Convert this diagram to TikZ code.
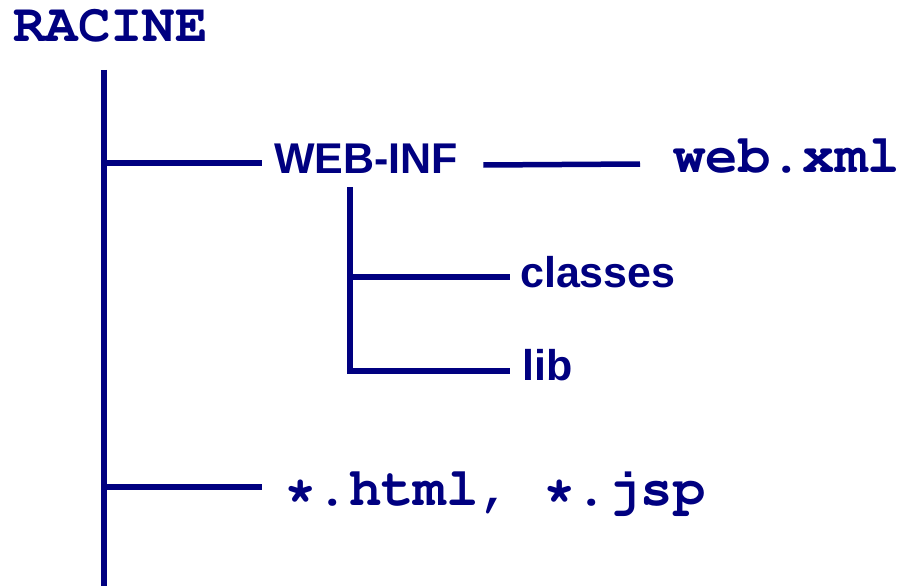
\documentclass[tikz,border=0pt]{standalone}
\usepackage{fontspec}
\setsansfont{Liberation Sans}
\usetikzlibrary{calc}
\definecolor{navyblue}{RGB}{0,0,128}
\newcommand{\courierbold}{\fontencoding{T1}\fontfamily{pcr}\fontseries{b}\selectfont}

\begin{document}
\begin{tikzpicture}[x=1pt,y=-1pt,
  dirline/.style={draw=navyblue, line width=5.5pt},
  mononame/.style={anchor=base west, inner sep=0pt, text=navyblue, font=\courierbold\fontsize{54}{60}\selectfont},
  sansname/.style={anchor=base west, inner sep=0pt, text=navyblue, font=\fontsize{43}{48}\selectfont\sffamily\bfseries}]
\useasboundingbox (0,0) rectangle (900,586);
% root directory and its trunk
\node[mononame] (racine) at (13,42) {RACINE};
\coordinate (trunktop) at (104,70);
\coordinate (trunkbot) at (104,586);
\draw[dirline] (trunktop) -- (trunkbot);
% WEB-INF and its content
\coordinate (webfork) at (104,163);
\node[sansname] (webinf) at (274,173) {WEB-INF};
\node[mononame] (webxml) at (673,172) {web.xml};
\draw[dirline] (webfork) -- ($(webinf.west |- webfork)+(-12,0)$);
\draw[dirline] ($(webinf.base east)+(25,-8)$) -- ($(webxml.base west)+(-33,-8)$);
\coordinate (subtop) at (350,187);
\coordinate (clsfork) at (350,277);
\coordinate (libfork) at (350,371);
\node[sansname] (classes) at (520,287) {classes};
\node[sansname] (lib) at (522,380) {lib};
\draw[dirline] (subtop) -- (libfork) -- ($(lib.west |- libfork)+(-12,0)$);
\draw[dirline] (clsfork) -- ($(classes.west |- clsfork)+(-10,0)$);
% pages at the root
\coordinate (htmlfork) at (104,487);
\node[mononame] (pages) at (284,505) {*.html, *.jsp};
\draw[dirline] (htmlfork) -- ($(pages.west |- htmlfork)+(-22,0)$);
\end{tikzpicture}
\end{document}
